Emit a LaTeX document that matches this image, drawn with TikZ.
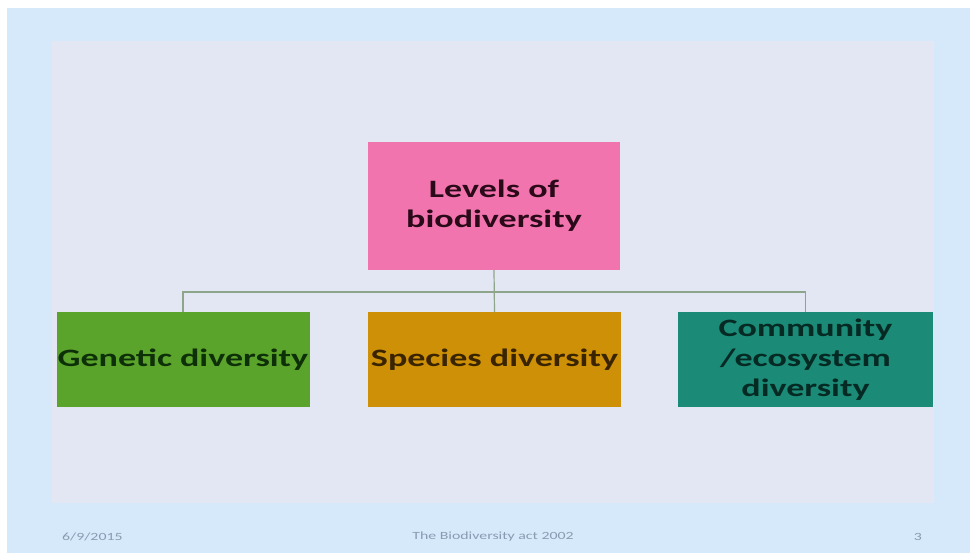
\documentclass[tikz,border=0pt]{standalone}
\usepackage{fontspec}
\setmainfont{Carlito}
\newfontfamily\widefont{Carlito}[FakeStretch=1.44]
\definecolor{outerbg}{RGB}{213,233,251}
\definecolor{panelbg}{RGB}{227,230,243}
\definecolor{pinkfill}{RGB}{241,116,174}
\definecolor{greenfill}{RGB}{91,164,43}
\definecolor{orangefill}{RGB}{205,144,6}
\definecolor{tealfill}{RGB}{27,138,119}
\definecolor{linecol}{RGB}{141,165,138}
\definecolor{pinktext}{RGB}{42,10,24}
\definecolor{greentext}{RGB}{14,48,8}
\definecolor{orangetext}{RGB}{58,36,0}
\definecolor{tealtext}{RGB}{5,42,36}
\definecolor{foottext}{RGB}{138,155,176}
\tikzset{
  boxnode/.style={draw=none, minimum width=253pt, minimum height=95pt, inner sep=0pt, align=center, font=\widefont\fontsize{25}{30}\selectfont\bfseries},
  conn/.style={draw=linecol, line width=1.2pt},
  foot/.style={font=\widefont\fontsize{11}{13}\selectfont, text=foottext, inner sep=0pt}
}
\begin{document}
\begin{tikzpicture}[x=1pt,y=-1pt]
\useasboundingbox (0,0) rectangle (970,553);
\fill[white] (0,0) rectangle (970,553);
\fill[outerbg] (7,8) rectangle (970,553);
\fill[panelbg] (52,41) rectangle (934,503);
\node[boxnode, fill=pinkfill, text=pinktext, minimum height=128pt, minimum width=252pt] (top) at (494,206) {Levels of\\biodiversity};
\node[boxnode, fill=greenfill, text=greentext] (gen) at (183,360) {Genetic diversity};
\node[boxnode, fill=orangefill, text=orangetext] (spe) at (494.5,360) {Species diversity};
\node[boxnode, fill=tealfill, text=tealtext, minimum width=255pt] (com) at (805.5,360) {Community\\/ecosystem\\diversity};
\coordinate (hy) at (494,292);
\draw[conn] (top.south) -- (spe.north);
\draw[conn] (gen.north) |- (hy) -| (com.north);
\node[foot, anchor=west] (date) at (62,537) {6/9/2015};
\node[foot] (title) at (493,537) {The Biodiversity act 2002};
\node[foot] (page) at (918,537) {3};
\end{tikzpicture}
\end{document}
